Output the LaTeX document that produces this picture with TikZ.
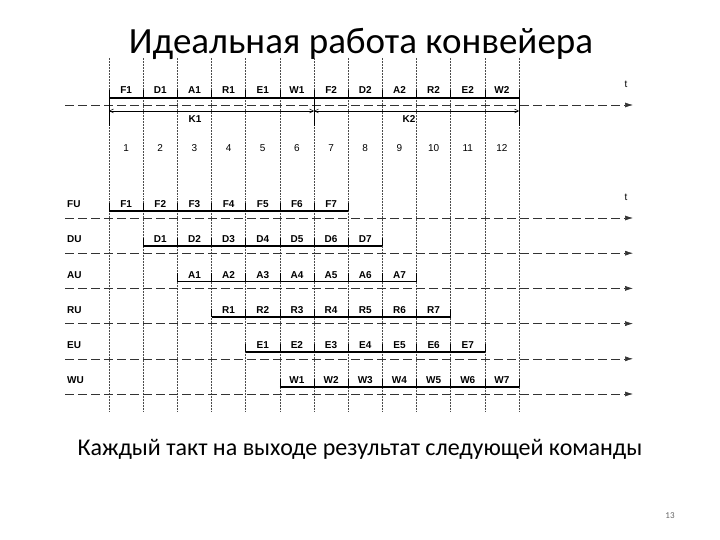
\documentclass[tikz,border=0pt]{standalone}
\usepackage{fontspec}
\setmainfont{Carlito}
\newfontfamily\arialfont{Liberation Sans}
\usetikzlibrary{arrows.meta}

\begin{document}
\begin{tikzpicture}[x=1pt, y=-1pt,
    cell/.style={font=\arialfont\bfseries\fontsize{10}{11}\selectfont, inner sep=0pt, text height=7.2pt, text depth=0pt},
    num/.style={font=\arialfont\fontsize{10}{11}\selectfont, inner sep=0pt, text height=7.2pt, text depth=0pt},
    grid line/.style={densely dotted, black!70, line width=0.5pt},
    time axis/.style={dash pattern=on 9pt off 4pt, -{Latex[length=8pt,width=5pt]}, line width=0.6pt, black!80},
    stage line/.style={line width=1.8pt},
    tick/.style={line width=0.6pt},
    dim/.style={{Straight Barb[length=4pt,width=4pt]}-{Straight Barb[length=4pt,width=4pt]}, line width=0.5pt}]
  \useasboundingbox (0,0) rectangle (720,540);
  \def\cw{34.17}
  % title
  \node[anchor=base] (title) at (361,54) {\fontsize{37}{42}\selectfont Идеальная работа конвейера};
  % dotted grid
  \foreach \k in {0,...,12}
    \draw[grid line] (109+\k*\cw,58) -- (109+\k*\cw,412);
  % one instruction after another
  \foreach \s [count=\i] in {F1,D1,A1,R1,E1,W1,F2,D2,A2,R2,E2,W2}
    \node[cell] (k-\i) at (109+\i*\cw-0.5*\cw,90) {\s};
  \coordinate (ks) at (109,98);
  \coordinate (ke) at (109+12*\cw,98);
  \draw[stage line] (ks) -- (ke);
  \foreach \k in {0,...,12}
    \draw[tick] (109+\k*\cw,90) -- ++(0,8);
  \coordinate (t0s) at (65,105);
  \coordinate (t0e) at (633,105);
  \draw[time axis] (t0s) -- (t0e);
  \node[num] (t0) at (626,84) {t};
  % K1, K2
  \coordinate (d0) at (109,111);
  \coordinate (d1) at (109+6*\cw,111);
  \coordinate (d2) at (109+12*\cw,111);
  \foreach \p in {d0,d1,d2}
    \draw[tick] (\p) ++(0,-13) -- ++(0,28);
  \draw[dim] (d0) -- (d1);
  \draw[dim] (d1) -- (d2);
  \node[cell] (k1) at (195,119) {K1};
  \node[cell] (k2) at (409,119) {K2};
  % clock numbers
  \foreach \i in {1,...,12}
    \node[num] (n-\i) at (109+\i*\cw-0.5*\cw,148) {\i};
  \node[num] (t1) at (626,197) {t};
  % units
  \foreach \u/\c [count=\r from 0] in {FU/F,DU/D,AU/A,RU/R,EU/E,WU/W} {
    \pgfmathsetmacro\yy{204+35.2*\r}
    \node[cell, anchor=west] (\u) at (67,\yy) {\u};
    \foreach \i in {1,...,7}
      \node[cell] (\c\i) at (109+\r*\cw+\i*\cw-0.5*\cw,\yy) {\c\i};
    \coordinate (\u-s) at (109+\r*\cw,\yy+7);
    \coordinate (\u-e) at (109+\r*\cw+7*\cw,\yy+7);
    \draw[stage line] (\u-s) -- (\u-e);
    \foreach \k in {0,...,7}
      \draw[tick] (109+\r*\cw+\k*\cw,\yy-1) -- ++(0,8);
    \coordinate (\u-a) at (65,\yy+14);
    \coordinate (\u-b) at (633,\yy+14);
    \draw[time axis] (\u-a) -- (\u-b);
  }
  % caption
  \node[anchor=base] (note) at (360,455) {\fontsize{24}{28}\selectfont Каждый такт на выходе результат следующей команды};
  \node[font=\fontsize{9}{10}\selectfont, text=black!60] (page) at (670,516) {13};
\end{tikzpicture}
\end{document}
